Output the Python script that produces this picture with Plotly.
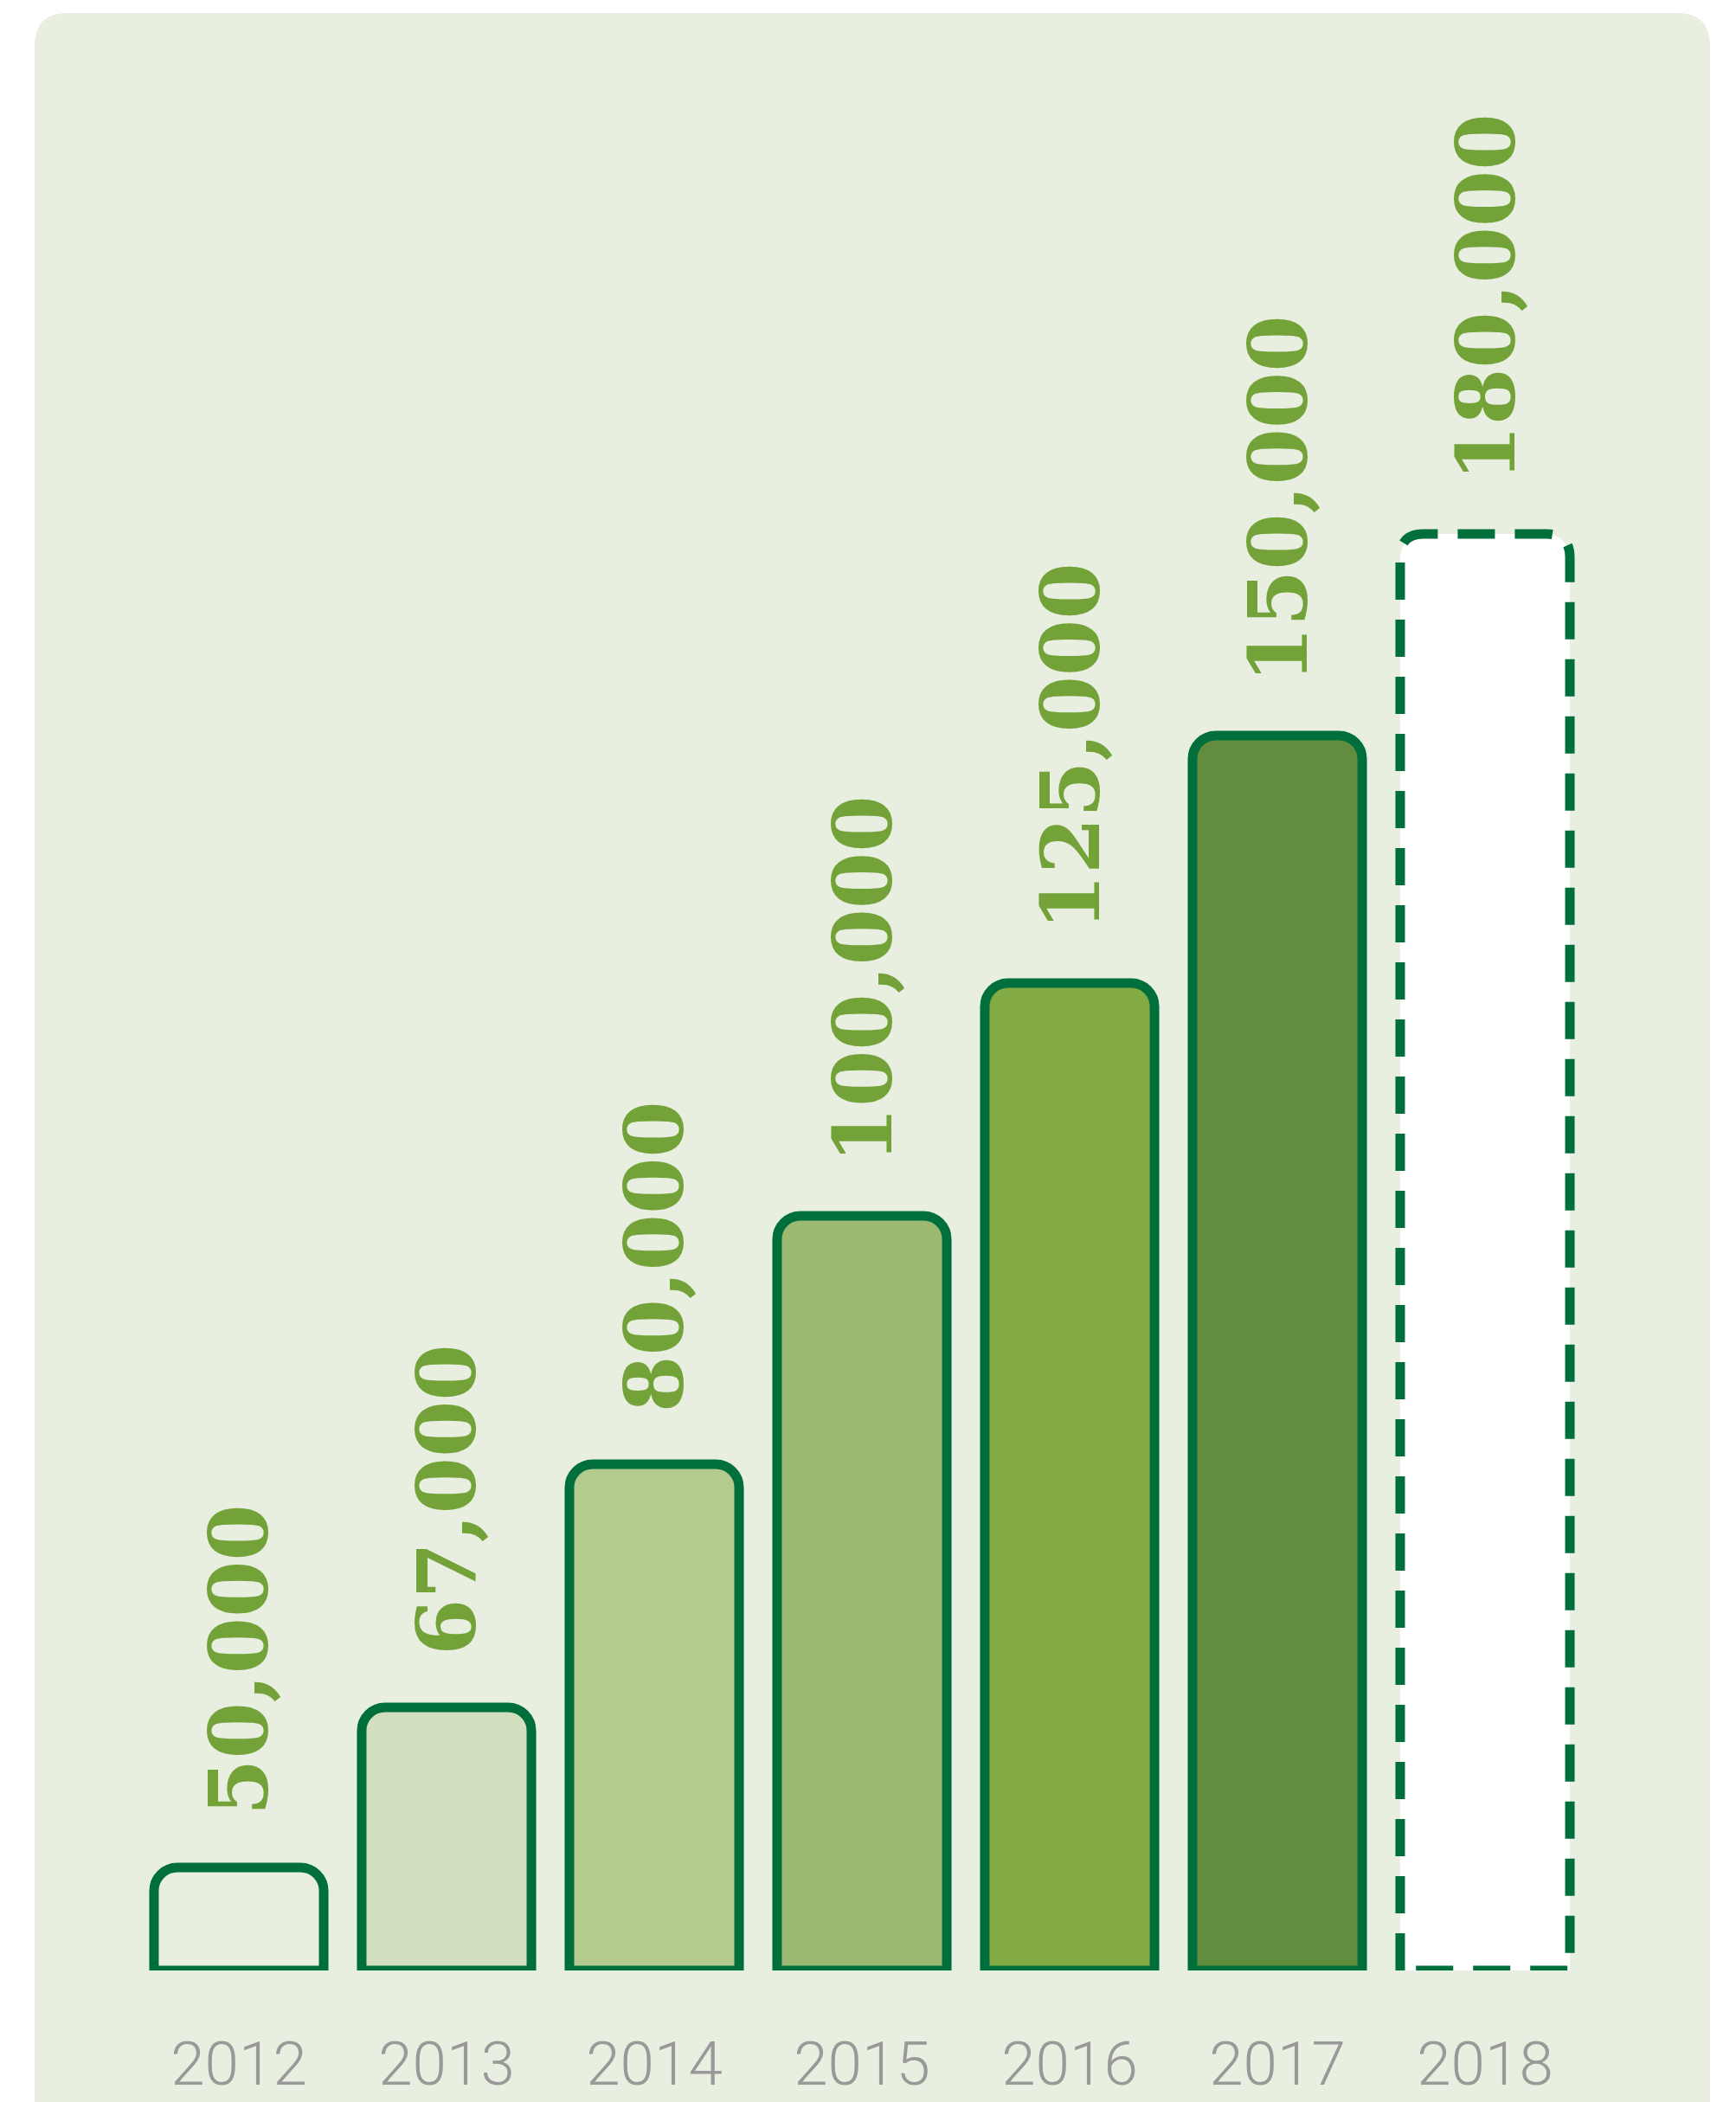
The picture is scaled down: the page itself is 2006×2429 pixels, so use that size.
import plotly.graph_objects as go

# ---- data ----
years = [2012, 2013, 2014, 2015, 2016, 2017, 2018]
year_labels = ["2012", "2013", "2014", "2015", "2016", "2017", "2018"]
value_labels = ["50,000", "67,000", "80,000", "100,000", "125,000", "150,000", "180,000"]
# drawn bar heights (pictorial, arbitrary units)
bar_heights = [119, 304, 585, 872, 1141, 1427, 1660]
bar_fills = ["#E8EEE0", "#D1DFBF", "#B3CB8F", "#9BB970", "#82AA45", "#628D3E", "#FFFFFF"]
projected = [False, False, False, False, False, False, True]

# ---- layout geometry (page has an 8px body margin) ----
W, H = 1998, 2421
ML, MR, MT, MB = 148, 170, 69, 152
PW, PH = W - ML - MR, H - MT - MB
Y_MAX = 2200
X_RANGE = [2011.5, 2018.5]
BAR_W = 0.817
LINE_W = 11
OUTLINE = "#006F3B"
LABEL_GREEN = "#73A338"
BG = "#E8EEE0"
CORNER_PX = 27

fig = go.Figure()

line_colors = ["rgba(0,0,0,0)" if p else OUTLINE for p in projected]
fig.add_trace(go.Bar(
    x=years, y=bar_heights, width=BAR_W,
    marker=dict(color=bar_fills, line=dict(color=line_colors, width=LINE_W), cornerradius=CORNER_PX),
    hoverinfo="skip", showlegend=False,
))

# dashed outline for projected bar(s)
px_per_x = PW / (X_RANGE[1] - X_RANGE[0])
px_per_y = PH / Y_MAX
rx = CORNER_PX / px_per_x
ry = CORNER_PX / px_per_y
shapes = []
for yr, h, p in zip(years, bar_heights, projected):
    if not p:
        continue
    x0, x1 = yr - BAR_W / 2, yr + BAR_W / 2
    path = (f"M {x0},0 L {x0},{h - ry} Q {x0},{h} {x0 + rx},{h} "
            f"L {x1 - rx},{h} Q {x1},{h} {x1},{h - ry} L {x1},0 Z")
    shapes.append(dict(type="path", xref="x", yref="y", path=path,
                       line=dict(color=OUTLINE, width=LINE_W, dash="43px,23px"),
                       fillcolor="rgba(0,0,0,0)", layer="above"))

# rounded background panel (paper coords computed from pixels)
def pxx(px):
    return (px - ML) / PW

def pyy(py):
    return (H - MB - py) / PH

L, R, T, B, RAD = 32, 1968, 7, 2600, 38
bg_path = (f"M {pxx(L)},{pyy(B)} L {pxx(L)},{pyy(T + RAD)} "
           f"Q {pxx(L)},{pyy(T)} {pxx(L + RAD)},{pyy(T)} "
           f"L {pxx(R - RAD)},{pyy(T)} Q {pxx(R)},{pyy(T)} {pxx(R)},{pyy(T + RAD)} "
           f"L {pxx(R)},{pyy(B)} Z")
shapes.insert(0, dict(type="path", xref="paper", yref="paper", path=bg_path,
                      fillcolor=BG, line=dict(width=0), layer="below"))

annotations = []
for yr, h, lab in zip(years, bar_heights, value_labels):
    annotations.append(dict(
        x=yr, y=h, xref="x", yref="y", text=lab, showarrow=False,
        textangle=-90, xanchor="center", yanchor="bottom", yshift=58,
        font=dict(family="DejaVu Serif, serif", size=94,
                  color=LABEL_GREEN, weight="bold"),
    ))

fig.update_layout(
    width=W, height=H,
    margin=dict(l=ML, r=MR, t=MT, b=MB, autoexpand=False),
    paper_bgcolor="white", plot_bgcolor="rgba(0,0,0,0)",
    shapes=shapes, annotations=annotations,
    xaxis=dict(range=X_RANGE, tickvals=years, ticktext=year_labels,
               showgrid=False, zeroline=False, showline=False, ticks="",
               tickfont=dict(family="Roboto, Lato, sans-serif", size=71, color="#999999", weight=300),
               ticklabelstandoff=60, automargin=False),
    yaxis=dict(range=[0, Y_MAX], visible=False, showgrid=False, zeroline=False, automargin=False),
    bargap=0.2,
)

fig.write_html("out.html")
